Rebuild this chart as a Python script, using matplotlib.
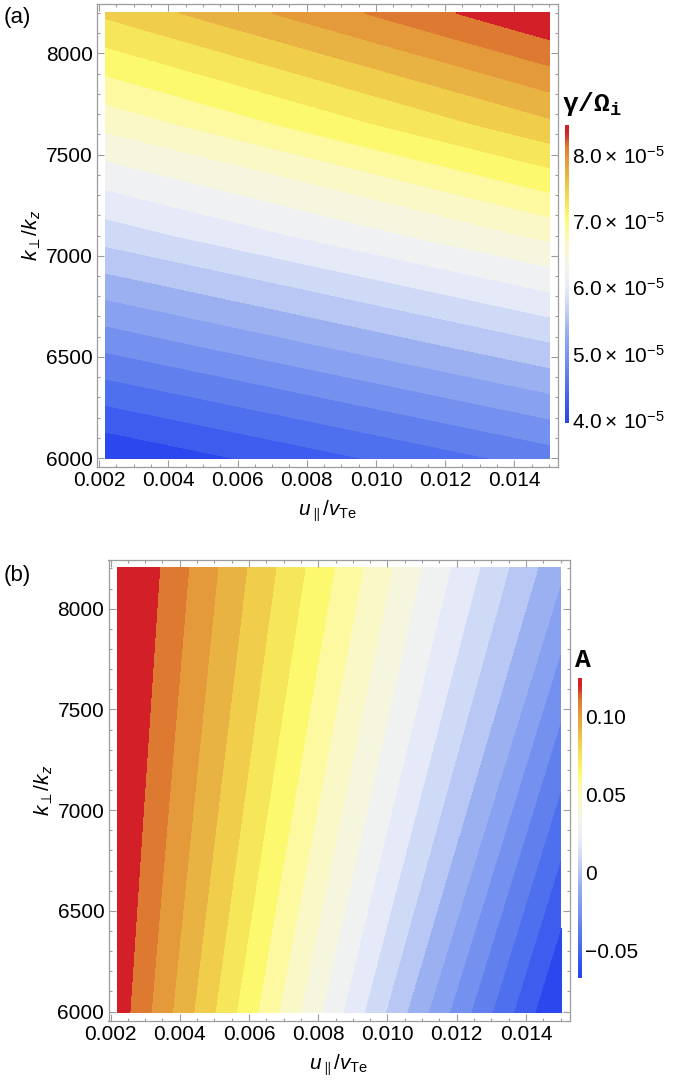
import numpy as np
import matplotlib
matplotlib.use("Agg")
import matplotlib.pyplot as plt
from matplotlib.colors import LinearSegmentedColormap, Normalize
from matplotlib.cm import ScalarMappable
from matplotlib.ticker import MultipleLocator

plt.rcParams['font.family'] = ['Liberation Sans', 'DejaVu Sans']
plt.rcParams['mathtext.fontset'] = 'custom'
plt.rcParams['mathtext.rm'] = 'Liberation Sans'
plt.rcParams['mathtext.it'] = 'Liberation Sans:italic'
plt.rcParams['mathtext.bf'] = 'Liberation Mono:bold'

# ---- data -------------------------------------------------------------
# drift speed u_par / v_Te (columns) and wavevector ratio k_perp / k_z (rows)
u_par = [0.0022, 0.015]
k_ratio_gamma = [6000, 6550, 7100, 7650, 8200]
# growth rate gamma / Omega_i in units of 1e-5
gamma = [
    [3.95, 4.69],
    [4.85, 5.62],
    [5.75, 6.57],
    [6.58, 7.54],
    [7.42, 8.45],
]
gamma_range = [3.95, 8.45]
gamma_ticks = [4.0, 5.0, 6.0, 7.0, 8.0]

k_ratio_asym = [6000, 8200]
# asymmetry A
asym = [
    [0.121, -0.070],
    [0.129, -0.011],
]
asym_range = [-0.068, 0.125]
asym_ticks = [-0.05, 0.0, 0.05, 0.10]
asym_tick_labels = ["\u22120.05", "0", "0.05", "0.10"]

n_contours = 20

x_ticks = [0.002, 0.004, 0.006, 0.008, 0.010, 0.012, 0.014]
x_tick_labels = ["0.002", "0.004", "0.006", "0.008", "0.010", "0.012", "0.014"]
y_ticks = [6000, 6500, 7000, 7500, 8000]
y_tick_labels = ["6000", "6500", "7000", "7500", "8000"]

# ---- colour map (blue - white - yellow - red) ---------------------------
temp_colors = [
    (0.000, "#2A46EE"), (0.024, "#2D4AEE"), (0.120, "#4F70EE"),
    (0.210, "#7390EF"), (0.310, "#9AB0F0"), (0.357, "#B8C7F4"),
    (0.405, "#D0DAF6"), (0.452, "#E6EAF8"), (0.500, "#F0F1F2"),
    (0.548, "#F6F6E0"), (0.595, "#FAF8C8"), (0.643, "#FDF9A0"),
    (0.690, "#FDF96E"), (0.738, "#F5E65A"), (0.786, "#F0CF4B"),
    (0.833, "#E8B443"), (0.881, "#E49B3B"), (0.929, "#DE7A32"),
    (0.976, "#D42029"), (1.000, "#D31F28"),
]
cmap = LinearSegmentedColormap.from_list("temperature", temp_colors)

FIG_W, FIG_H = 690, 1083
fig = plt.figure(figsize=(FIG_W / 100, FIG_H / 100), dpi=100)


def box(x0, y0, x1, y1):
    return [x0 / FIG_W, 1 - y1 / FIG_H, (x1 - x0) / FIG_W, (y1 - y0) / FIG_H]


frame_grey = "#9c9c9c"
xlim = (0.00194, 0.01526)
ylim = (5956, 8244)


def style_axes(ax):
    ax.set_xlim(*xlim)
    ax.set_ylim(*ylim)
    ax.set_xticks(x_ticks)
    ax.set_xticklabels(x_tick_labels)
    ax.set_yticks(y_ticks)
    ax.set_yticklabels(y_tick_labels)
    ax.xaxis.set_minor_locator(MultipleLocator(0.0005))
    ax.yaxis.set_minor_locator(MultipleLocator(100))
    ax.tick_params(which="both", direction="in", top=True, right=True,
                   color=frame_grey, labelcolor="black", labelsize=15, width=0.8)
    ax.tick_params(which="major", length=5, pad=3)
    ax.tick_params(which="minor", length=2.5)
    for s in ax.spines.values():
        s.set_color(frame_grey)
        s.set_linewidth(0.9)
    ax.set_xlabel(r"$u_{\parallel}/v_{\mathrm{Te}}$", fontsize=15, labelpad=6)
    ax.set_ylabel(r"$k_{\perp}/k_z$", fontsize=15, labelpad=2)


def add_bar(rect, rng, ticks, labels):
    cax = fig.add_axes(rect)
    sm = ScalarMappable(norm=Normalize(*rng), cmap=cmap)
    cb = fig.colorbar(sm, cax=cax)
    cb.outline.set_visible(False)
    cb.set_ticks(ticks)
    cb.set_ticklabels(labels)
    cax.tick_params(length=0, pad=2.5, labelsize=15)
    return cb


def fill_bands(ax, x, y, z, rng):
    # n_contours equally spaced contours across the colour range; the two
    # end bands are widened so that every value falls into a band
    levels = np.linspace(rng[0], rng[1], n_contours + 2)
    step = levels[1] - levels[0]
    levels[0] -= 0.5 * step
    levels[-1] += 0.5 * step
    X, Y = np.meshgrid(x, y)
    cs = ax.contourf(X, Y, np.array(z), levels=levels, cmap=cmap,
                     norm=Normalize(*rng), algorithm="serial")
    cs.set_edgecolor("face")
    cs.set_linewidth(0.6)
    return cs


# ---- panel (a): growth rate -------------------------------------------
ax1 = fig.add_axes(box(97, 4, 558, 467))
fill_bands(ax1, u_par, k_ratio_gamma, gamma, gamma_range)
style_axes(ax1)
add_bar(box(565, 125, 569, 423), gamma_range, gamma_ticks,
        [r"$%.1f\times\,10^{-5}$" % t for t in gamma_ticks])
fig.text(562 / FIG_W, 1 - 104 / FIG_H, r"$\mathbf{γ/Ω}_{\mathbf{i}}$",
         fontsize=19, ha="left", va="center")
fig.text(4 / FIG_W, 1 - 17 / FIG_H, "(a)", fontsize=16, ha="left", va="center")

# ---- panel (b): asymmetry ---------------------------------------------
ax2 = fig.add_axes(box(108.5, 559.5, 569.5, 1020.5))
fill_bands(ax2, u_par, k_ratio_asym, asym, asym_range)
style_axes(ax2)
add_bar(box(578, 678, 582, 978), asym_range, asym_ticks, asym_tick_labels)
fig.text(574 / FIG_W, 1 - 660 / FIG_H, r"$\mathbf{A}$",
         fontsize=19, ha="left", va="center")
fig.text(4 / FIG_W, 1 - 575 / FIG_H, "(b)", fontsize=16, ha="left", va="center")

fig.savefig("out.png", dpi=100)
